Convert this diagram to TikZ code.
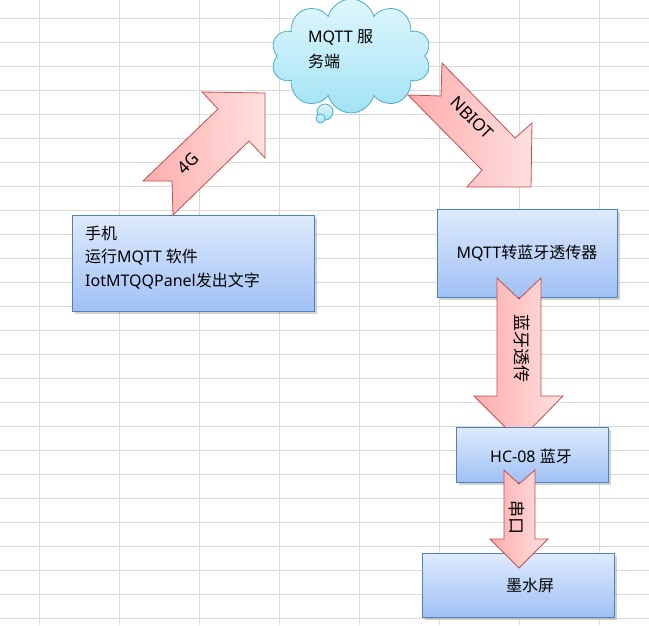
\documentclass[tikz,border=0pt]{standalone}
\usepackage{fontspec}
\setmainfont{Noto Sans}
\newfontfamily\cjk{Noto Sans CJK SC}
\usetikzlibrary{shapes.symbols,shadows}
\definecolor{gridc}{RGB}{217,217,217}
\definecolor{boxtop}{RGB}{222,234,252}
\definecolor{boxbot}{RGB}{160,192,245}
\definecolor{boxline}{RGB}{79,129,189}
\definecolor{arrdark}{RGB}{255,172,172}
\definecolor{arrlight}{RGB}{255,224,224}
\definecolor{arrline}{RGB}{192,80,77}
\definecolor{cloudtop}{RGB}{224,247,253}
\definecolor{cloudbot}{RGB}{162,226,244}
\definecolor{cloudline}{RGB}{75,172,198}
\begin{document}
\begin{tikzpicture}[x=1pt,y=-1pt,
  boxstyle/.style={draw=boxline, line width=1pt, top color=boxtop, bottom color=boxbot,
    drop shadow={shadow xshift=2pt,shadow yshift=-2pt,opacity=0.35}, anchor=north west},
  arrowshape/.style={draw=arrline, line width=0.8pt, left color=arrdark, right color=arrlight},
  lbl/.style={font=\fontsize{16}{19}\selectfont, inner sep=0pt},
  albl/.style={font=\fontsize{17}{19}\selectfont, inner sep=0pt}]
\useasboundingbox (0,0) rectangle (649,625);
\fill[white] (0,0) rectangle (649,625);
% grid
\foreach \gx in {39.5,119.5,...,600}
  \draw[gridc, line width=1pt] (\gx,0) -- (\gx,625);
\foreach \gy in {18.5,42.5,...,625}
  \draw[gridc, line width=1pt] (0,\gy) -- (649,\gy);
% phone box
\node[boxstyle, minimum width=242pt, minimum height=96pt] (phone) at (72,215) {};
\node[lbl, anchor=west] (ph1) at (85,233) {\cjk 手机};
\node[lbl, anchor=west] (ph2) at (85,257) {{\cjk 运行}MQTT {\cjk 软件}};
\node[lbl, anchor=west] (ph3) at (85,281) {IotMTQQPanel{\cjk 发出文字}};
% cloud
\node[cloud, cloud puffs=10, draw=cloudline, line width=0.8pt, top color=cloudtop, bottom color=cloudbot,
  minimum width=160pt, minimum height=114pt] (mqtt) at (351,56) {};
\draw[cloudline, line width=0.8pt, top color=cloudtop, bottom color=cloudbot] (325,112) circle (8pt);
\draw[cloudline, line width=0.8pt, top color=cloudtop, bottom color=cloudbot] (320.5,118.5) circle (4.5pt);
\node[lbl, anchor=west] (mq1) at (308,37) {MQTT {\cjk 服}};
\node[lbl, anchor=west] (mq2) at (308,61) {\cjk 务端};
% 4G arrow
\draw[arrowshape] (143,181) -- (172,181) -- (173,215) -- (249,141) -- (265,158) -- (265,93)
  -- (202,92) -- (218,109) -- cycle;
\node[albl, rotate=45] (g4) at (188,163) {4G};
% NBIOT arrow
\draw[arrowshape] (408,95) -- (441,96) -- (442,63) -- (515,138) -- (532,123) -- (531,187)
  -- (467,187) -- (482,170) -- cycle;
\node[albl, rotate=-45] (nb) at (472,118) {NBIOT};
% converter box
\node[boxstyle, minimum width=180pt, minimum height=88pt] (conv) at (437,209) {};
\node[lbl] (convt) at (527,253) {MQTT{\cjk 转蓝牙透传器}};
% arrow 1
\draw[arrowshape] (497,278) -- (519,299) -- (541,278) -- (541,396) -- (563,396) -- (519,441)
  -- (474,396) -- (497,396) -- cycle;
\node[albl, rotate=-90] (bt) at (522,348) {\cjk 蓝牙透传};
% HC-08 box
\node[boxstyle, minimum width=152pt, minimum height=55pt] (hc) at (456,427) {};
\node[lbl] (hct) at (531,456) {HC-08 {\cjk 蓝牙}};
% epaper box
\node[boxstyle, minimum width=192pt, minimum height=64pt] (epd) at (422,553) {};
\node[lbl] (epdt) at (530,585) {\cjk 墨水屏};
% arrow 2
\draw[arrowshape] (504,470) -- (519,484) -- (535,470) -- (535,539) -- (548,539) -- (519,568)
  -- (490,539) -- (504,539) -- cycle;
\node[albl, rotate=-90] (sp) at (517,517) {\cjk 串口};
\end{tikzpicture}
\end{document}
